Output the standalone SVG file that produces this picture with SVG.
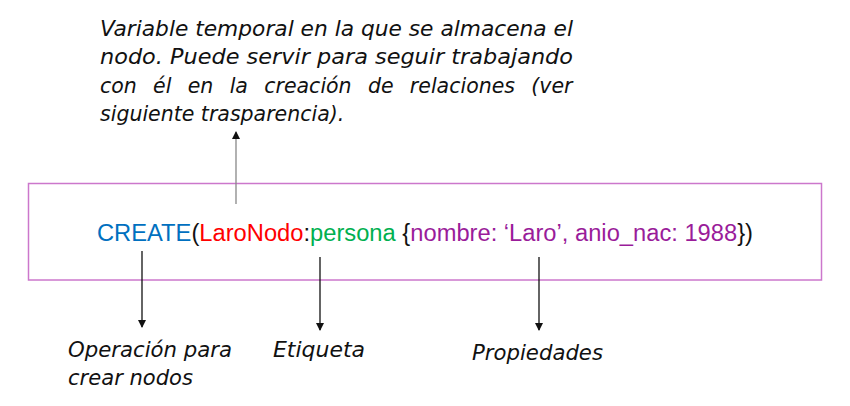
<svg xmlns="http://www.w3.org/2000/svg" width="850" height="406" viewBox="0 0 850 406">
<style>
.note{font-family:"DejaVu Sans","Liberation Sans",sans-serif;font-style:italic;font-size:20.5px;fill:#111}
.code{font-family:"Liberation Sans",sans-serif;font-size:23.5px}
.conn{stroke:#111;stroke-width:1.3;fill:none;marker-end:url(#ah)}
</style>
<defs>
<marker id="ah" markerWidth="8" markerHeight="8" refX="7" refY="4" orient="auto" markerUnits="userSpaceOnUse">
<path d="M0,0 L8,4 L0,8 Z" fill="#111"/>
</marker>
</defs>
<rect width="850" height="406" fill="#fff"/>
<g id="box">
<rect x="28.5" y="183.5" width="793" height="96.5" fill="none" stroke="#CC77CC" stroke-width="1.5"/>
</g>
<g id="code">
<text class="code" x="97" y="241" textLength="656" lengthAdjust="spacingAndGlyphs"><tspan fill="#0070C0">CREATE</tspan><tspan fill="#111">(</tspan><tspan fill="#FF0000">LaroNodo</tspan><tspan fill="#111">:</tspan><tspan fill="#00B050">persona</tspan><tspan fill="#111"> {</tspan><tspan fill="#9A1C9A">nombre: ‘Laro’, anio_nac: 1988</tspan><tspan fill="#111">})</tspan></text>
</g>
<g id="note-top">
<text class="note" x="100" y="36" textLength="473" lengthAdjust="spacingAndGlyphs">Variable temporal en la que se almacena el</text>
<text class="note" x="100" y="64" textLength="473" lengthAdjust="spacingAndGlyphs">nodo. Puede servir para seguir trabajando</text>
<text class="note" x="100" y="93" word-spacing="9.8">con él en la creación de relaciones (ver</text>
<text class="note" x="100" y="121">siguiente trasparencia).</text>
</g>
<g id="label-operacion">
<text class="note" x="68" y="357" textLength="164" lengthAdjust="spacingAndGlyphs">Operación para</text>
<text class="note" x="68" y="385" textLength="125" lengthAdjust="spacingAndGlyphs">crear nodos</text>
</g>
<g id="label-etiqueta">
<text class="note" x="273" y="357" textLength="92" lengthAdjust="spacingAndGlyphs">Etiqueta</text>
</g>
<g id="label-propiedades">
<text class="note" x="472" y="360" textLength="131" lengthAdjust="spacingAndGlyphs">Propiedades</text>
</g>
<g id="connectors">
<line x1="236" y1="204" x2="236" y2="132" stroke="#888" stroke-width="1.3" marker-end="url(#ah)"/>
<line class="conn" x1="142" y1="251" x2="142" y2="327"/>
<line class="conn" x1="320" y1="257" x2="320" y2="330"/>
<line class="conn" x1="539" y1="257" x2="539" y2="330"/>
</g>
</svg>
